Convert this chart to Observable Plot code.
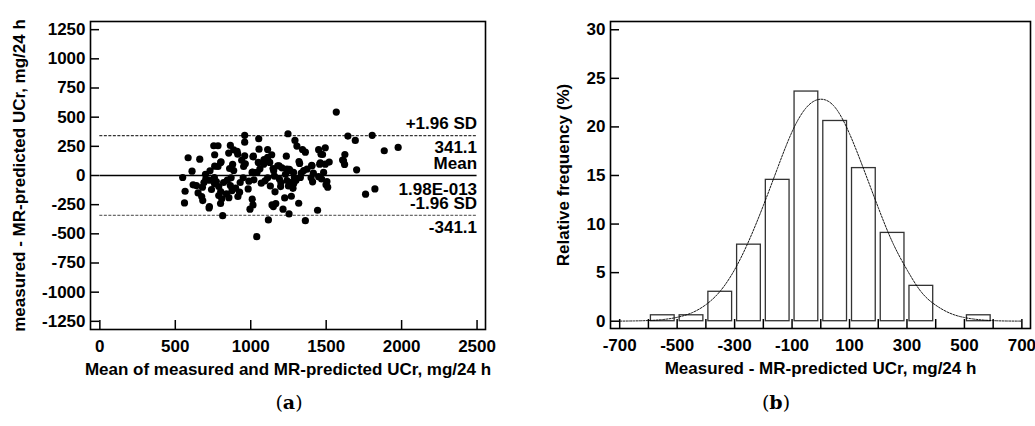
<!DOCTYPE html>
<html>
<head>
<meta charset="utf-8">
<script src="https://cdn.jsdelivr.net/npm/d3@7"></script>
<script src="https://cdn.jsdelivr.net/npm/@observablehq/plot@0.6"></script>
<style>
  html, body { margin: 0; padding: 0; background: #fff; }
  #wrap { position: relative; width: 1035px; height: 426px; background: #fff; overflow: hidden; }
  #pa { position: absolute; left: 0; top: 0; }
  #pb { position: absolute; left: 517px; top: 0; }
  .cap { position: absolute; top: 391px; font-family: "DejaVu Serif", "Liberation Serif", serif; font-size: 19px; color: #000; transform: translateX(-50%); }
  .cap b { font-weight: bold; }
</style>
</head>
<body>
<div id="wrap">
  <div id="pa"></div>
  <div id="pb"></div>
  <div class="cap" style="left:289px">(<b>a</b>)</div>
  <div class="cap" style="left:776px">(<b>b</b>)</div>
</div>
<script>
// ---- Panel (a): Bland-Altman scatter ----
const scatterX = [1567,1247,960,1053,1644,1805,1693,1293,1885,1977,960,755,783,865,887,910,854,761,585,662,
  611,960,1017,1112,1139,1088,1050,1061,1013,953,964,880,887,803,783,761,1236,1306,1343,1362,
  1320,1256,1188,1148,1207,1450,1494,1476,1461,1520,1404,1351,1415,1483,1624,1609,1622,1702,1126,1086,
  1042,1152,1179,1240,1262,1284,1324,1373,1406,1457,1494,1466,1615,914,801,1009,1112,1015,1055,860,
  940,1230,1335,700,730,
  549,565,561,618,640,651,675,682,726,724,702,726,759,772,788,801,788,808,839,865,
  876,900,915,926,814,983,1010,1015,995,988,1021,1040,1117,1070,1095,1112,1157,1161,1141,1166,
  1150,1214,1225,1269,1254,1318,1198,1240,1263,1285,1289,1329,1362,1410,1443,1505,1499,1761,1823,740,
  760,820,845,870,930,950,800,1190,1250,1300,1200,1280,1470,1450,1400,690,855,1510,1130,680];
const scatterY = [544,358,344,315,338,344,301,301,212,241,286,255,255,258,220,206,192,178,152,140,
  37,169,166,223,178,137,112,57,29,77,100,95,43,117,77,80,166,252,223,200,
  120,52,83,60,66,221,238,180,109,115,86,43,20,26,180,132,95,49,112,97,
  26,40,83,54,40,26,103,54,83,97,97,183,126,183,112,26,155,160,226,60,
  130,10,20,10,40,
  -17,-135,-235,-80,-86,-149,-180,-215,-266,-278,-31,-40,-17,-52,-95,-137,-172,-200,-158,-86,
  -129,-109,-180,-143,-344,-115,-203,-252,-289,-49,-37,-524,-381,-66,-46,-20,-6,-140,-252,-241,
  -266,-289,-192,-178,-329,-238,-95,-43,-60,-69,-20,-17,-387,-54,-298,-52,-80,-160,-115,-120,
  -70,-60,-40,-20,-60,-20,-240,-30,-90,-40,-60,-110,-30,-10,-20,-60,-190,-100,-90,-100];
const xTicksA = [0, 500, 1000, 1500, 2000, 2500];
const yTicksA = [-1250, -1000, -750, -500, -250, 0, 250, 500, 750, 1000, 1250];
const limitValues = [341.1, 0, -341.1];
const limitRange = [0, 2500];
const limitLabelsAbove = ["+1.96 SD", "Mean", "-1.96 SD"];
const limitLabelsBelow = ["341.1", "1.98E-013", "-341.1"];
const xLabelA = "Mean of measured and MR-predicted UCr, mg/24 h";
const yLabelA = "measured - MR-predicted UCr, mg/24 h";

// ---- Panel (b): histogram of differences ----
const binStart = [-600, -500, -400, -300, -200, -100, 0, 100, 200, 300, 400, 500];
const binPercent = [0.61, 0.61, 3.03, 7.88, 14.55, 23.64, 20.61, 15.76, 9.09, 3.64, 0, 0.61];
const binWidth = 100;
const curveX = [-700,-650,-600,-550,-500,-450,-400,-350,-300,-250,-200,-150,-100,-50,0,50,100,150,200,250,300,350,400,450,500,550,600,650,700];
const curveY = [0.01,0.03,0.07,0.17,0.4,0.85,1.7,3.1,5.3,8.3,11.9,15.8,19.5,22.0,22.85,22.0,19.3,15.6,11.7,8.1,5.3,3.0,1.65,0.82,0.38,0.16,0.06,0.02,0.01];
const xTicksB = [-700,-600,-500,-400,-300,-200,-100,0,100,200,300,400,500,600,700];
const xLabelTicksB = [-700,-500,-300,-100,100,300,500,700];
const yTicksB = [0, 5, 10, 15, 20, 25, 30];
const xLabelB = "Measured - MR-predicted UCr, mg/24 h";
const yLabelB = "Relative frequency (%)";

const font = "'Liberation Sans', Arial, Helvetica, sans-serif";
const FS = 17;
const baseStyle = {fontFamily: font, fontWeight: "bold", fontSize: FS + "px", color: "#000", background: "#fff", overflow: "visible"};

const pts = scatterX.map((x, i) => ({x, y: scatterY[i]}));
const limits = limitValues.map((v, i) => ({v, above: limitLabelsAbove[i], below: limitLabelsBelow[i]}));
const limitsMean = limits.filter(d => d.v === 0);
const limitsSD = limits.filter(d => d.v !== 0);

const chartA = Plot.plot({
  width: 517, height: 380,
  marginLeft: 90, marginRight: 32, marginTop: 21, marginBottom: 51,
  style: baseStyle,
  x: {domain: [-62, 2556]},
  y: {domain: [-1320, 1320]},
  marks: [
    Plot.ruleY(limitsSD, {y: "v", x1: limitRange[0], x2: limitRange[1], stroke: (d) => d.v > 0 ? "#000" : "#444", strokeWidth: 1, strokeDasharray: "3,1.5"}),
    Plot.ruleY(limitsMean, {y: "v", x1: limitRange[0], x2: limitRange[1], stroke: "#000", strokeWidth: 1.6}),
    Plot.dot(pts, {x: "x", y: "y", r: 3.6, fill: "#000", stroke: null}),
    Plot.text(limits, {x: limitRange[1], y: "v", text: "above", textAnchor: "end", dy: -12, fontSize: FS, fontWeight: "bold"}),
    Plot.text(limitsSD, {x: limitRange[1], y: "v", text: "below", textAnchor: "end", dy: 12, fontSize: FS, fontWeight: "bold"}),
    Plot.text(limitsMean, {x: limitRange[1], y: "v", text: "below", textAnchor: "end", dy: 14, fontSize: FS, fontWeight: "bold"}),
    Plot.axisY(yTicksA, {tickSize: -9, tickPadding: 14, strokeWidth: 1.5, label: null, tickFormat: d => String(d)}),
    Plot.axisX(xTicksA, {tickSize: -9, tickPadding: 19, strokeWidth: 1.5, label: null, tickFormat: d => String(d)}),
    Plot.frame({stroke: "#000", strokeWidth: 1.6}),
    Plot.text([xLabelA], {frameAnchor: "bottom", textAnchor: "middle", dy: 40, lineAnchor: "middle", fontSize: FS, fontWeight: "bold"}),
    Plot.text([yLabelA], {frameAnchor: "left", textAnchor: "middle", dx: -71, rotate: -90, lineAnchor: "middle", fontSize: FS, fontWeight: "bold"})
  ]
});
document.getElementById("pa").appendChild(chartA);

const bins = binStart.map((s, i) => ({x1: s, x2: s + binWidth, y: binPercent[i]})).filter(d => d.y > 0);
const curve = curveX.map((x, i) => ({x, y: curveY[i]}));

const chartB = Plot.plot({
  width: 518, height: 380,
  marginLeft: 93, marginRight: 5, marginTop: 21, marginBottom: 52,
  style: baseStyle,
  x: {domain: [-732, 730]},
  y: {domain: [-0.75, 30.85]},
  marks: [
    Plot.rectY(bins, {x1: "x1", x2: "x2", y1: 0, y2: "y", fill: "#fff", stroke: "#333", strokeWidth: 1.3, insetLeft: 2.5, insetRight: 2.5}),
    Plot.line(curve, {x: "x", y: "y", stroke: "#000", strokeWidth: 0.9, strokeDasharray: "2,1.3", curve: "natural"}),
    Plot.axisY(yTicksB, {tickSize: -9, tickPadding: 14, strokeWidth: 1.5, label: null, tickFormat: d => String(d)}),
    Plot.axisX(xTicksB, {tickSize: -9, tickPadding: 19, strokeWidth: 1.5, label: null, tickFormat: d => xLabelTicksB.includes(d) ? String(d) : ""}),
    Plot.frame({stroke: "#000", strokeWidth: 1.6}),
    Plot.text([xLabelB], {frameAnchor: "bottom", textAnchor: "middle", dy: 40, lineAnchor: "middle", fontSize: FS, fontWeight: "bold"}),
    Plot.text([yLabelB], {frameAnchor: "left", textAnchor: "middle", dx: -47, rotate: -90, lineAnchor: "middle", fontSize: FS, fontWeight: "bold"})
  ]
});
document.getElementById("pb").appendChild(chartB);
</script>
</body>
</html>
